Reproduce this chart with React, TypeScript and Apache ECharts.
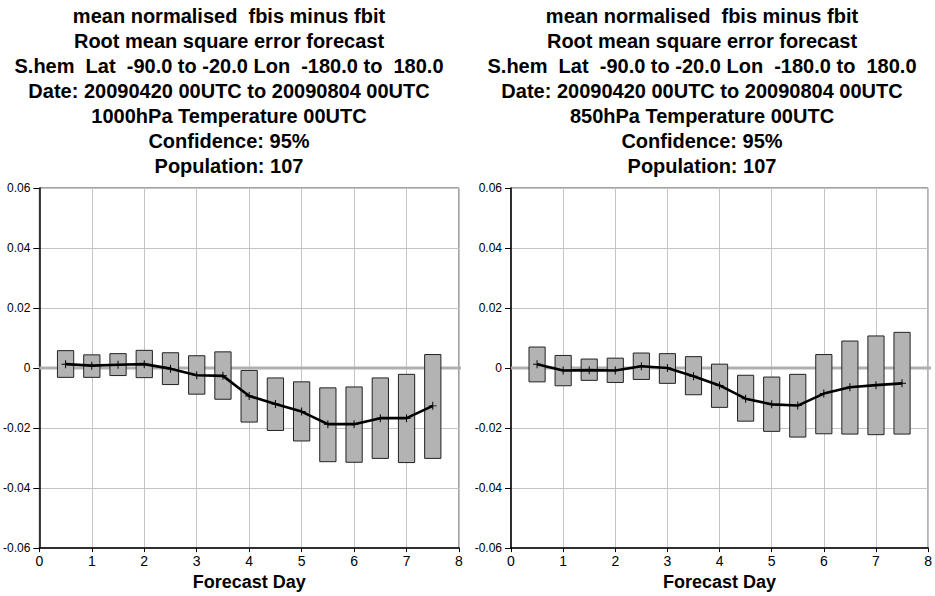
import React, { useEffect, useRef } from "react";
import * as echarts from "echarts";

const days = [0.5, 1, 1.5, 2, 2.5, 3, 3.5, 4, 4.5, 5, 5.5, 6, 6.5, 7, 7.5];

const mean1000 = [0.0013, 0.0008, 0.0011, 0.0013, -0.0002, -0.0024, -0.0026, -0.0093, -0.012, -0.0145, -0.0187, -0.0187, -0.0167, -0.0167, -0.0126];
const upper1000 = [0.0058, 0.0044, 0.0048, 0.0059, 0.0051, 0.0041, 0.0054, -0.0008, -0.0033, -0.0046, -0.0066, -0.0063, -0.0033, -0.0021, 0.0045];
const lower1000 = [-0.0031, -0.0031, -0.0025, -0.0032, -0.0055, -0.0087, -0.0104, -0.018, -0.0208, -0.0243, -0.0312, -0.0314, -0.0301, -0.0315, -0.0301];

const mean850 = [0.0013, -0.0008, -0.0007, -0.0008, 0.0006, 0.0, -0.0027, -0.0058, -0.0102, -0.0121, -0.0125, -0.0085, -0.0064, -0.0057, -0.0051];
const upper850 = [0.007, 0.0042, 0.003, 0.0033, 0.005, 0.0048, 0.0038, 0.0013, -0.0024, -0.003, -0.0021, 0.0045, 0.009, 0.0107, 0.0119];
const lower850 = [-0.0046, -0.0059, -0.0041, -0.0048, -0.0038, -0.0051, -0.0089, -0.0131, -0.0177, -0.0211, -0.023, -0.0219, -0.022, -0.0222, -0.022];

const zeroLine = [[0, 0], [8.06, 0]];

const titleLeft = [
  "mean normalised  fbis minus fbit",
  "Root mean square error forecast",
  "S.hem  Lat  -90.0 to -20.0 Lon  -180.0 to  180.0",
  "Date: 20090420 00UTC to 20090804 00UTC",
  "1000hPa Temperature 00UTC",
  "Confidence: 95%",
  "Population: 107",
];
const titleRight = [
  "mean normalised  fbis minus fbit",
  "Root mean square error forecast",
  "S.hem  Lat  -90.0 to -20.0 Lon  -180.0 to  180.0",
  "Date: 20090420 00UTC to 20090804 00UTC",
  "850hPa Temperature 00UTC",
  "Confidence: 95%",
  "Population: 107",
];

const xTicks = { min: 0, max: 8, interval: 1 };
const yTicks = { min: -0.06, max: 0.06, interval: 0.02 };
const xName = "Forecast Day";

const FONT = "'Liberation Sans', Arial, Helvetica, sans-serif";

export default function App() {
  const ref = useRef<HTMLDivElement>(null);
  useEffect(() => {
    if (!ref.current) return;
    const chart = echarts.init(ref.current, undefined, { renderer: "svg" });

    const grids = [
      { left: 39, top: 188, width: 420, height: 366 },
      { left: 511, top: 188, width: 420, height: 366 },
    ];

    const xAxes = grids.map((_, i) => ({
      type: "value",
      gridIndex: i,
      min: xTicks.min,
      max: xTicks.max,
      interval: xTicks.interval,
      name: xName,
      nameLocation: "middle",
      nameGap: 23,
      nameTextStyle: { fontFamily: FONT, fontSize: 18, fontWeight: "bold", color: "#000" },
      axisLine: { show: true, onZero: false, lineStyle: { color: "#000", width: 1.5 } },
      axisTick: { show: true, length: 4, lineStyle: { color: "#000" } },
      axisLabel: { fontFamily: FONT, fontSize: 14, color: "#000", margin: 6 },
      splitLine: { show: true, lineStyle: { color: "#c4c4c4", width: 1 } },
    }));

    const yAxes = grids.map((_, i) => ({
      type: "value",
      gridIndex: i,
      min: yTicks.min,
      max: yTicks.max,
      interval: yTicks.interval,
      axisLine: { show: true, onZero: false, lineStyle: { color: "#000", width: 1.5 } },
      axisTick: { show: true, length: 6, lineStyle: { color: "#000" } },
      axisLabel: {
        fontFamily: FONT,
        fontSize: 12,
        color: "#000",
        margin: 9,
        formatter: (v: number) => (Math.abs(v) < 1e-9 ? "0" : v.toFixed(2)),
      },
      splitLine: { show: true, lineStyle: { color: "#c4c4c4", width: 1 } },
    }));

    const panels = [
      { mean: mean1000, upper: upper1000, lower: lower1000 },
      { mean: mean850, upper: upper850, lower: lower850 },
    ];

    const series: any[] = [];
    panels.forEach((p, i) => {
      series.push({
        type: "line",
        xAxisIndex: i,
        yAxisIndex: i,
        data: zeroLine,
        z: 1,
        silent: true,
        clip: false,
        symbol: "none",
        lineStyle: { color: "#b0b0b0", width: 3 },
      });
      series.push({
        type: "custom",
        xAxisIndex: i,
        yAxisIndex: i,
        z: 2,
        encode: { x: 0, y: [1, 2] },
        data: days.map((d, k) => [d, p.lower[k], p.upper[k]]),
        renderItem: (params: any, api: any) => {
          const x = api.value(0);
          const lo = api.value(1);
          const hi = api.value(2);
          const p1 = api.coord([x, hi]);
          const p2 = api.coord([x, lo]);
          const w = api.size([0.31, 0])[0];
          return {
            type: "rect",
            shape: { x: p1[0] - w / 2, y: p1[1], width: w, height: p2[1] - p1[1] },
            style: { fill: "#b3b3b3", stroke: "#222", lineWidth: 1 },
          };
        },
      });
      series.push({
        type: "line",
        xAxisIndex: i,
        yAxisIndex: i,
        z: 3,
        data: days.map((d, k) => [d, p.mean[k]]),
        symbol: "path://M4.4,0H5.6V4.4H10V5.6H5.6V10H4.4V5.6H0V4.4H4.4Z",
        symbolSize: 8,
        showSymbol: true,
        itemStyle: { color: "#000" },
        lineStyle: { color: "#000", width: 2.6 },
      });
    });

    chart.setOption({
      animation: false,
      backgroundColor: "#fff",
      grid: grids.map((g) => ({ ...g, show: true, borderColor: "#444", borderWidth: 1, backgroundColor: "transparent" })),
      xAxis: xAxes,
      yAxis: yAxes,
      series,
      graphic: [
        {
          type: "text",
          x: 229,
          y: 3,
          style: {
            text: titleLeft.join("\n"),
            font: `bold 20px ${FONT}`,
            fill: "#000",
            textAlign: "center",
            textVerticalAlign: "top",
            lineHeight: 25,
          },
        },
        {
          type: "text",
          x: 702,
          y: 3,
          style: {
            text: titleRight.join("\n"),
            font: `bold 20px ${FONT}`,
            fill: "#000",
            textAlign: "center",
            textVerticalAlign: "top",
            lineHeight: 25,
          },
        },
      ],
    });
    return () => chart.dispose();
  }, []);
  return (
    <div
      ref={ref}
      style={{ position: "fixed", left: 0, top: 0, width: 935, height: 596 }}
    />
  );
}
